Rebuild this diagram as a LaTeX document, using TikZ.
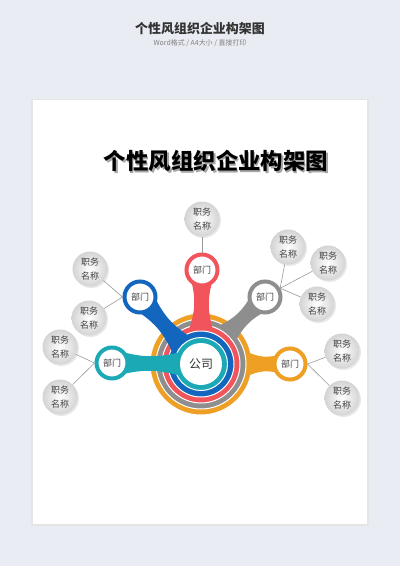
\documentclass[tikz,border=0pt]{standalone}
\usepackage{fontspec}
\setmainfont{Noto Sans CJK SC}
\usetikzlibrary{calc,shadows}

\definecolor{bgcol}{HTML}{E9ECF3}
\definecolor{redcol}{HTML}{F2545B}
\definecolor{graycol}{HTML}{8E8E8E}
\definecolor{bluecol}{HTML}{1266BE}
\definecolor{cyancol}{HTML}{1BAAB5}
\definecolor{orangecol}{HTML}{EEA025}

% tapered stem from a department to the ring
\newcommand{\deptstem}[3]{%
  \fill[#3] ($(#1)!14bp!90:(#2)$)
    .. controls ($(#1)!0.4!(#2)!5bp!90:(#2)$) and ($(#1)!0.6!(#2)!5bp!90:(#2)$) .. ($(#2)!14bp!-90:(#1)$)
    -- ($(#2)!14bp!90:(#1)$)
    .. controls ($(#1)!0.6!(#2)!5bp!-90:(#2)$) and ($(#1)!0.4!(#2)!5bp!-90:(#2)$) .. ($(#1)!14bp!-90:(#2)$)
    -- cycle;}

\begin{document}
\begin{tikzpicture}[x=1bp,y=-1bp,
  dept/.style={circle,draw=#1,line width=4bp,fill=white,minimum size=31bp,inner sep=0pt,
    font=\fontsize{9}{10}\selectfont,text=black!75},
  job/.style={circle,inner color=white,outer color=black!17,minimum size=35bp,inner sep=0pt,
    align=center,font=\fontsize{9}{13.5}\selectfont,text=black!75,
    drop shadow={opacity=0.18,shadow xshift=1.5bp,shadow yshift=-1.5bp}},
  company/.style={circle,fill=white,minimum size=42bp,inner sep=0pt,
    font=\fontsize{12}{14}\selectfont,text=black!80},
  ring/.style={fill=#1,draw=white,line width=1bp},
  link/.style={draw=black!40,line width=0.6bp}]
  \useasboundingbox (0,0) rectangle (400,566);
%%
  % Page
  \fill[bgcol] (0,0) rectangle (400,566);
  \fill[black!10] (31,99) rectangle (369,526);
  \fill[white] (33,100) rectangle (367,524);
  % Header
  \node[font=\fontsize{13}{15}\selectfont\bfseries,text=black!80] (head) at (200,29) {个性风组织企业构架图};
  \node[font=\fontsize{7}{8}\selectfont,text=black!50] (sub) at (200,43) {Word格式 / A4大小 / 直接打印};
  % Title
  \node[font=\fontsize{22.5}{24}\selectfont\bfseries,text=black!35] (tshadow) at (217.5,162.5) {个性风组织企业构架图};
  \node[font=\fontsize{22.5}{24}\selectfont\bfseries] (title) at (216,161) {个性风组织企业构架图};
%%
  \coordinate (ctr) at (201,364);
  \coordinate (dr) at (202,270);
  \coordinate (dg) at (265,297);
  \coordinate (db) at (140,297);
  \coordinate (dc) at (112,363);
  \coordinate (do) at (290,364);
  % Rings and stems
  \draw[ring=orangecol] (ctr) circle (51bp);
  \coordinate (eo) at (243,364);
  \deptstem{do}{eo}{orangecol}
  \draw[ring=graycol] (ctr) circle (45bp);
  \coordinate (eg) at (222,339);
  \deptstem{dg}{eg}{graycol}
  \draw[ring=redcol] (ctr) circle (39bp);
  \coordinate (er) at (201,336);
  \deptstem{dr}{er}{redcol}
  \draw[ring=bluecol] (ctr) circle (33bp);
  \coordinate (eb) at (186,350);
  \deptstem{db}{eb}{bluecol}
  \draw[ring=cyancol] (ctr) circle (26.5bp);
  \coordinate (ec) at (188,364);
  \deptstem{dc}{ec}{cyancol}
  % Node: company
  \node[company] (comp) at (ctr) {公司};
  % Node: departments
  \node[dept=redcol] (dred) at (dr) {部门};
  \node[dept=graycol] (dgray) at (dg) {部门};
  \node[dept=bluecol] (dblue) at (db) {部门};
  \node[dept=cyancol] (dcyan) at (dc) {部门};
  \node[dept=orangecol] (dorange) at (do) {部门};
  % Node: jobs
  \node[job] (jr) at (202,219) {职务\\名称};
  \node[job] (jg1) at (288,247) {职务\\名称};
  \node[job] (jg2) at (328,263) {职务\\名称};
  \node[job] (jg3) at (317,304) {职务\\名称};
  \node[job] (jb1) at (90,269) {职务\\名称};
  \node[job] (jb2) at (89,318) {职务\\名称};
  \node[job] (jc1) at (60,347) {职务\\名称};
  \node[job] (jc2) at (60,397) {职务\\名称};
  \node[job] (jo1) at (342,351) {职务\\名称};
  \node[job] (jo2) at (342,398) {职务\\名称};
  % Edge: jobs -> departments
  \draw[link] (jr) -- (dred.90);
  \draw[link] (jg1) -- (dgray.30);
  \draw[link] (jg2) -- (dgray.30);
  \draw[link] (jg3) -- (dgray.30);
  \draw[link] (jb1) -- (dblue.180);
  \draw[link] (jb2) -- (dblue.180);
  \draw[link] (jc1) -- (dcyan.180);
  \draw[link] (jc2) -- (dcyan.180);
  \draw[link] (jo1) -- (dorange.0);
  \draw[link] (jo2) -- (dorange.0);
%
\end{tikzpicture}
\end{document}
